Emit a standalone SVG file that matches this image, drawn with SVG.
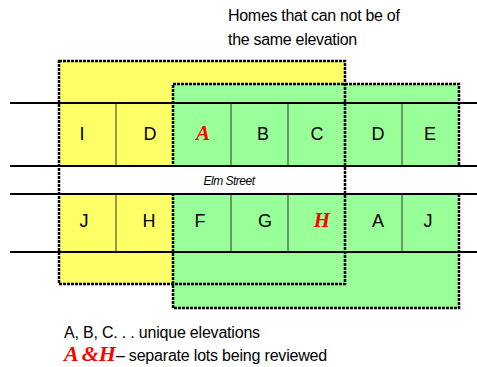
<svg xmlns="http://www.w3.org/2000/svg" width="477" height="367" viewBox="0 0 477 367">
<style>
.lbl{font-family:"Liberation Sans",Arial,sans-serif;font-size:18px;fill:#000;text-anchor:middle}
.red{font-family:"Liberation Serif","Times New Roman",serif;font-size:21px;font-style:italic;font-weight:bold;fill:#FF0000;text-anchor:middle}
.txt{font-family:"Liberation Sans",Arial,sans-serif;font-size:16px;fill:#000;letter-spacing:-0.3px}
.leg{font-family:"Liberation Sans",Arial,sans-serif;font-size:16px;fill:#000;letter-spacing:-0.2px}
.rl{font-family:"Liberation Serif","Times New Roman",serif;font-size:22px;font-style:italic;font-weight:bold;fill:#FF0000}
.road{stroke:#000;stroke-width:2}
.div{stroke:#333;stroke-width:1}
.bord{fill:none;stroke:#000;stroke-width:2.5;stroke-dasharray:3 1}
</style>
<rect id="yellow-zone" x="59" y="61" width="286" height="223" fill="#FFFF66"/>
<g id="green-zone">
<rect x="173" y="84" width="286" height="224" fill="#99FF99"/>
<rect x="173" y="84" width="286" height="224" class="bord" stroke-width="2"/>
</g>
<rect id="street" x="10" y="166" width="467" height="28" fill="#FFFFFF"/>
<rect x="59" y="61" width="286" height="223" class="bord"/>
<g id="connectors">
<line class="road" x1="10" y1="103" x2="477" y2="103"/>
<line class="road" x1="10" y1="166" x2="477" y2="166"/>
<line class="road" x1="10" y1="194" x2="477" y2="194"/>
<line class="road" x1="10" y1="252" x2="477" y2="252"/>
<line class="div" x1="116" y1="103" x2="116" y2="166"/>
<line class="div" x1="231" y1="103" x2="231" y2="166"/>
<line class="div" x1="288" y1="103" x2="288" y2="166"/>
<line class="div" x1="402" y1="103" x2="402" y2="166"/>
<line class="div" x1="116" y1="194" x2="116" y2="252"/>
<line class="div" x1="231" y1="194" x2="231" y2="252"/>
<line class="div" x1="288" y1="194" x2="288" y2="252"/>
<line class="div" x1="402" y1="194" x2="402" y2="252"/>
</g>
<g id="top-row">
<text class="lbl" x="82" y="140">I</text>
<text class="lbl" x="150" y="140">D</text>
<text class="red" x="203" y="140">A</text>
<text class="lbl" x="263" y="140">B</text>
<text class="lbl" x="317" y="140">C</text>
<text class="lbl" x="378" y="140">D</text>
<text class="lbl" x="430" y="140">E</text>
</g>
<g id="bottom-row">
<text class="lbl" x="84" y="227">J</text>
<text class="lbl" x="149" y="227">H</text>
<text class="lbl" x="200" y="227">F</text>
<text class="lbl" x="265" y="227">G</text>
<text class="red" x="322" y="227">H</text>
<text class="lbl" x="378" y="227">A</text>
<text class="lbl" x="428" y="227">J</text>
</g>
<text id="street-name" x="229" y="185" font-family="Liberation Sans,Arial,sans-serif" font-size="12" font-style="italic" text-anchor="middle" letter-spacing="-0.5">Elm Street</text>
<g id="title">
<text class="txt" x="228" y="21">Homes that can not be of</text>
<text class="txt" x="228" y="45">the same elevation</text>
</g>
<g id="legend">
<text class="leg" x="64" y="338">A, B, C. . . unique elevations</text>
<text x="64" y="361"><tspan class="rl" letter-spacing="3">A</tspan><tspan class="rl">&amp;H</tspan><tspan class="leg">– separate lots being reviewed</tspan></text>
</g>
</svg>
